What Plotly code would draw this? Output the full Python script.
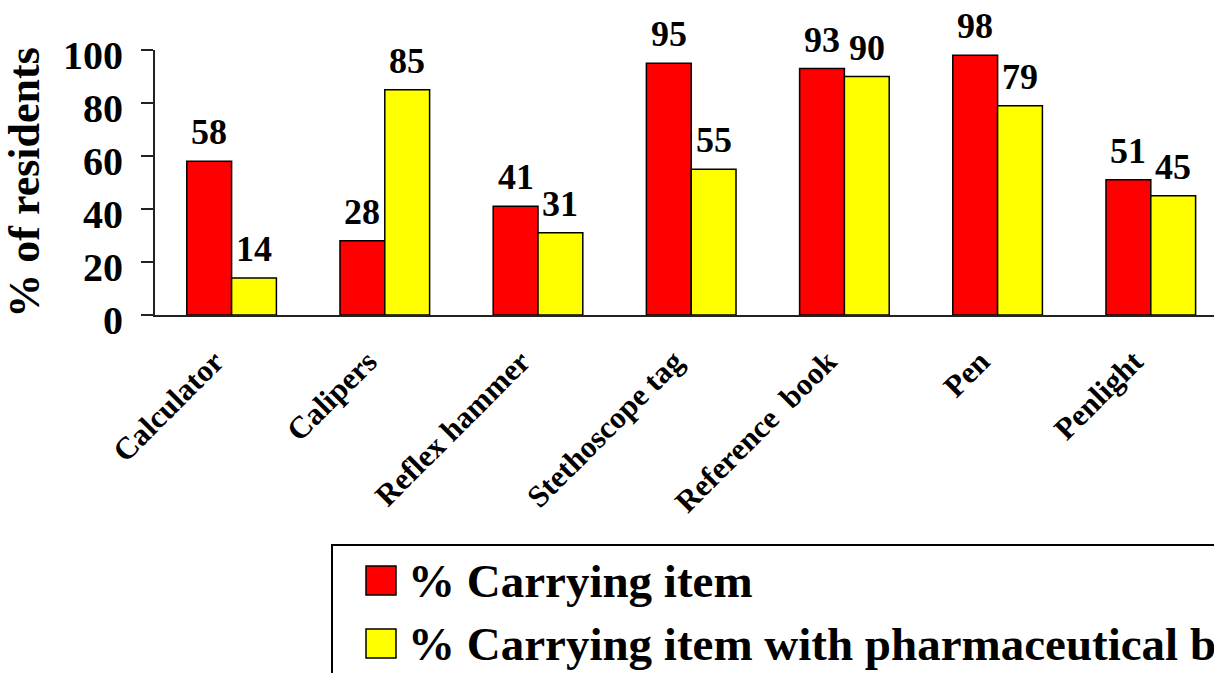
import plotly.graph_objects as go

# Survey data: share of residents carrying each item
items = ["Calculator", "Calipers", "Reflex hammer", "Stethoscope tag",
         "Reference\u00a0 book", "Pen", "Penlight"]
carrying = [58, 28, 41, 95, 93, 98, 51]
carrying_pharma = [14, 85, 31, 55, 90, 79, 45]
series_names = ["% Carrying item", "% Carrying item with pharmaceutical branding"]
series_colors = ["#FF0000", "#FFFF00"]
y_ticks = [0, 20, 40, 60, 80, 100]

FONT = "Liberation Serif, Times New Roman, serif"
W, H = 1214, 673
ML, MR, MT, MB = 155, 0, 50, 358
PW, PH = W - ML - MR, H - MT - MB
CAT_PX = 153.2          # width of one category slot in pixels
BARGAP = 0.415
BAR_PX = CAT_PX * (1 - BARGAP) / 2

fig = go.Figure()
annotations = []
for k, (name, vals, col) in enumerate(zip(series_names, [carrying, carrying_pharma], series_colors)):
    fig.add_trace(go.Bar(
        x=items, y=vals, name=name,
        marker=dict(color=col, line=dict(color="black", width=1.5)),
        showlegend=False,
    ))
    # value labels above each bar
    shift = (k - 0.5) * BAR_PX
    for cat, v in zip(items, vals):
        annotations.append(dict(
            x=cat, y=v, xref="x", yref="y", xshift=shift, yshift=7,
            xanchor="center", yanchor="bottom", showarrow=False, text=str(v),
            font=dict(family=FONT, size=36, color="black", weight="bold"),
        ))

# the plot runs past the last group up to the right edge
fig.update_xaxes(
    range=[-0.5, -0.5 + PW / CAT_PX],
    showline=True, linecolor="#222", linewidth=2,
    ticks="", tickangle=-45, ticklabelstandoff=14, ticklabelshift=-17,
    tickfont=dict(family=FONT, size=31, color="black", weight="bold"),
    showgrid=False, zeroline=False, fixedrange=True,
)
fig.update_yaxes(
    range=[0, 100], tickvals=y_ticks,
    showline=True, linecolor="#222", linewidth=2,
    ticks="outside", ticklen=12, tickwidth=2, tickcolor="#222",
    ticklabelstandoff=10, ticklabelshift=5,
    tickfont=dict(family=FONT, size=40, color="black", weight="bold"),
    title=dict(text="% of residents", standoff=16,
               font=dict(family=FONT, size=44, color="black", weight="bold")),
    showgrid=False, zeroline=False, fixedrange=True,
)


def px_x(px):
    return (px - ML) / PW


def px_y(py):
    return (MT + PH - py) / PH


# legend box (runs off the page to the right and bottom)
shapes = [dict(type="rect", xref="paper", yref="paper",
               x0=px_x(332), x1=px_x(1300), y0=px_y(545), y1=px_y(760),
               line=dict(color="black", width=2), fillcolor="white", layer="above")]
for i, (name, col) in enumerate(zip(series_names, series_colors)):
    top = 566 + 63 * i
    shapes.append(dict(type="rect", xref="paper", yref="paper",
                       x0=px_x(366), x1=px_x(396), y0=px_y(top), y1=px_y(top + 29),
                       line=dict(color="black", width=1.5), fillcolor=col, layer="above"))
    annotations.append(dict(xref="paper", yref="paper", x=px_x(406), y=px_y(top + 15),
                            xanchor="left", yanchor="middle", showarrow=False,
                            text=name, align="left",
                            font=dict(family=FONT, size=47, color="black", weight="bold")))

fig.update_layout(
    width=W, height=H,
    margin=dict(l=ML, r=MR, t=MT, b=MB, autoexpand=False),
    barmode="group", bargap=BARGAP, bargroupgap=0,
    paper_bgcolor="white", plot_bgcolor="white",
    shapes=shapes, annotations=annotations,
)

fig.write_html("out.html", config={"displayModeBar": False})
